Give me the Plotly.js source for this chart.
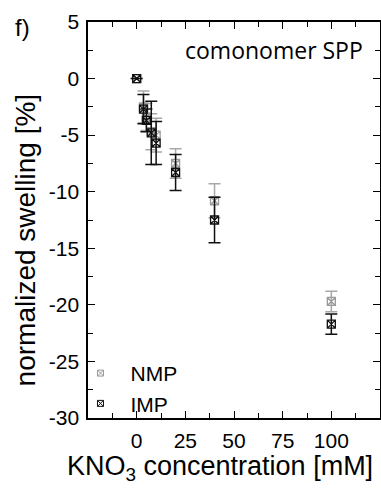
<!DOCTYPE html>
<html><head><meta charset="utf-8">
<script src="https://cdn.plot.ly/plotly-3.0.1.min.js"></script>
<style>body{margin:0;padding:0;background:#fff}#chart{width:381px;height:488px}</style>
</head><body><div id="chart"></div>
<script>
// KNO3 concentration [mM]
const concentration = [0, 3.5, 5, 7.5, 10, 20, 40, 100];
// normalized swelling [%]
const nmpSwelling = [0, -2.5, -3.4, -4.7, -5.0, -7.5, -10.8, -19.7];
const nmpError    = [0, 1.4, 1.2, 1.6, 1.5, 1.3, 1.5, 0.9];
const impSwelling = [0, -2.7, -3.7, -4.8, -5.7, -8.3, -12.5, -21.7];
const impError    = [0, 1.3, 1.0, 2.8, 1.9, 1.6, 2.0, 0.9];
const xTicks = [0, 25, 50, 75, 100];
const yTicks = [-30, -25, -20, -15, -10, -5, 0, 5];
const seriesNames = ['NMP', 'IMP'];

const font = 'Liberation Sans, Arial, sans-serif';
const gray = '#9a9a9a', dark = '#111';
const traces = [
  {x: concentration, y: nmpSwelling, name: seriesNames[0], type: 'scatter', mode: 'markers', showlegend: false,
   marker: {symbol: 'square-x-open', size: 8, color: gray, line: {width: 1.3, color: gray}},
   error_y: {type: 'data', array: nmpError, visible: true, color: '#a8a8a8', thickness: 1.5, width: 6}},
  {x: concentration, y: impSwelling, name: seriesNames[1], type: 'scatter', mode: 'markers', showlegend: false,
   marker: {symbol: 'square-x-open', size: 8, color: dark, line: {width: 1.3, color: dark}},
   error_y: {type: 'data', array: impError, visible: true, color: dark, thickness: 1.5, width: 6}},
  // legend entries (smaller symbols, as in the reference legend)
  {x: [null], y: [null], name: seriesNames[0], type: 'scatter', mode: 'markers',
   marker: {symbol: 'square-x-open', size: 6, color: gray, line: {width: 1, color: gray}}},
  {x: [null], y: [null], name: seriesNames[1], type: 'scatter', mode: 'markers',
   marker: {symbol: 'square-x-open', size: 6, color: dark, line: {width: 1, color: dark}}}
];
const axisCommon = {
  showgrid: false, zeroline: false, showline: true, linecolor: '#000', linewidth: 1.6,
  mirror: 'allticks', ticks: 'inside', ticklen: 7, tickwidth: 1, tickcolor: '#000',
  ticklabelstandoff: 3,
  tickfont: {family: font, size: 21, color: '#000'}
};
const layout = {
  width: 381, height: 488,
  margin: {l: 88, r: 1, t: 22, b: 70},
  paper_bgcolor: '#fff', plot_bgcolor: '#fff',
  showlegend: true,
  legend: {x: -0.06, y: -0.015, xanchor: 'left', yanchor: 'bottom', bgcolor: 'rgba(0,0,0,0)',
           font: {family: font, size: 21, color: '#000'}, itemwidth: 50, tracegroupgap: 0},
  xaxis: Object.assign({}, axisCommon, {
    range: [-25, 125], tickvals: xTicks, ticktext: xTicks.map(String),
    minor: {dtick: 12.5, tick0: 0, ticks: 'inside', ticklen: 5, tickcolor: '#000'}
  }),
  yaxis: Object.assign({}, axisCommon, {
    range: [-30, 5], tickvals: yTicks, ticktext: yTicks.map(String),
    minor: {dtick: 2.5, tick0: 0, ticks: 'inside', ticklen: 5, tickcolor: '#000'}
  }),
  annotations: [
    {text: 'f)', xref: 'paper', yref: 'paper', x: -0.256, y: 0.987, xanchor: 'left', yanchor: 'middle',
     showarrow: false, font: {family: font, size: 24, color: '#000'}},
    {text: 'comonomer SPP', xref: 'paper', yref: 'paper', x: 0.948, y: 0.929, xanchor: 'right', yanchor: 'middle',
     showarrow: false, font: {family: 'Open Sans, sans-serif', size: 23, color: '#000'}},
    // axis titles
    {text: 'KNO<sub>3</sub> concentration [mM]', xref: 'paper', yref: 'paper', x: (220 - 88) / 293, y: -0.125,
     xanchor: 'center', yanchor: 'middle', showarrow: false, font: {family: font, size: 27, color: '#000'}},
    {text: 'normalized swelling [%]', xref: 'paper', yref: 'paper', x: -0.215, y: 0.449, textangle: -90,
     xanchor: 'center', yanchor: 'middle', showarrow: false, font: {family: font, size: 28, color: '#000'}}
  ]
};
Plotly.newPlot('chart', traces, layout, {displayModeBar: false, staticPlot: true});
</script></body></html>
